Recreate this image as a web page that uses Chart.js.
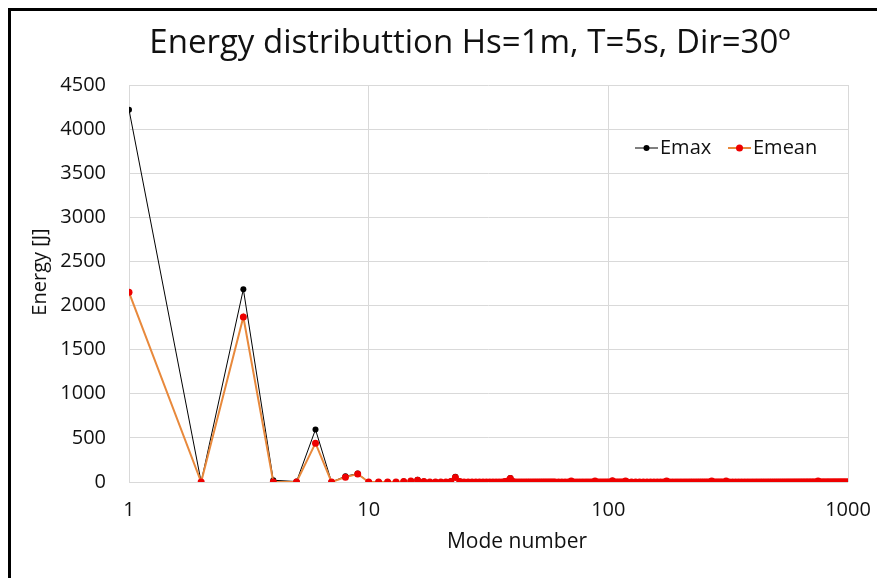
<!DOCTYPE html>
<html>
<head>
<meta charset="utf-8">
<script src="https://cdn.jsdelivr.net/npm/chart.js@4/dist/chart.umd.min.js"></script>
<style>
  html, body { margin: 0; padding: 0; background: #fff; }
  #wrap { width: 877px; height: 578px; position: relative; }
</style>
</head>
<body>
<div id="wrap"><canvas id="c" width="877" height="578"></canvas></div>
<script>
// ---- data ----
const chartTitle = 'Energy distributtion Hs=1m, T=5s, Dir=30º';
const xTitle = 'Mode number';
const yTitle = 'Energy [J]';
const seriesNames = ['Emax', 'Emean'];
const xTicks = [1, 10, 100, 1000];

const modes = [
  1,2,3,4,5,6,7,8,9,10,11,12,13,14,15,16,17,18,19,20,
  21,22,23,24,25,26,27,28,29,30,31,32,33,34,35,36,37,38,39,40,
  41,42,43,44,45,46,47,48,49,50,51,52,53,54,55,56,57,58,59,60,
  62,64,66,68,70,72,74,76,78,80,82,84,86,88,90,92,94,96,98,100,
  102,104,106,108,110,112,114,116,118,120,
  125,130,135,140,145,150,155,160,165,170,175,180,185,190,195,200,
  205,210,215,220,225,230,235,240,245,250,255,260,265,270,275,280,285,290,295,300,
  310,320,330,340,350,360,370,380,390,400,410,420,430,440,450,460,470,480,490,500,
  510,520,530,540,550,560,570,580,590,600,610,620,630,640,650,660,670,680,690,700,
  710,720,730,740,750,760,770,780,790,800,810,820,830,840,850,860,870,880,890,900,
  910,920,930,940,950,960,970,980,990,1000
];

const emax = [
  4220,0,2185,20,5,595,0,65,95,0,0,0,0,5,10,25,5,0,0,0,
  0,5,60,5,0,0,0,0,0,0,0,0,0,0,0,0,5,10,45,5,
  0,0,0,0,0,0,0,0,0,0,0,0,0,0,0,0,0,0,0,0,
  0,0,0,0,10,0,0,0,0,0,0,0,0,10,0,0,0,0,0,0,
  0,15,0,0,0,0,0,0,10,0,
  0,0,0,0,0,0,0,0,0,0,10,0,0,0,0,0,
  0,0,0,0,0,0,0,0,0,0,0,0,0,10,0,0,0,0,0,0,
  10,0,0,0,0,0,0,0,0,0,0,0,0,0,0,0,0,0,0,0,
  0,0,0,0,0,0,0,0,0,0,0,0,0,0,0,0,0,0,0,0,
  0,0,0,0,10,0,0,0,0,0,0,0,0,0,0,0,0,0,0,0,
  0,0,0,0,0,0,0,0,0,0
];

const emean = [
  2150,0,1870,0,0,440,0,55,90,0,0,0,0,5,10,20,5,0,0,0,
  0,5,50,5,0,0,0,0,0,0,0,0,0,0,0,0,5,10,40,5,
  0,0,0,0,0,0,0,0,0,0,0,0,0,0,0,0,0,0,0,0,
  0,0,0,0,10,0,0,0,0,0,0,0,0,10,0,0,0,0,0,0,
  0,15,0,0,0,0,0,0,10,0,
  0,0,0,0,0,0,0,0,0,0,10,0,0,0,0,0,
  0,0,0,0,0,0,0,0,0,0,0,0,0,10,0,0,0,0,0,0,
  10,0,0,0,0,0,0,0,0,0,0,0,0,0,0,0,0,0,0,0,
  0,0,0,0,0,0,0,0,0,0,0,0,0,0,0,0,0,0,0,0,
  0,0,0,0,10,0,0,0,0,0,0,0,0,0,0,0,0,0,0,0,
  0,0,0,0,0,0,0,0,0,0
];

// ---- styles ----
const FONT = "'Open Sans', 'Noto Sans', sans-serif";
const TEXT = '#111';
const GRID = '#d9d9d9';

const pts = (ys) => modes.map((m, i) => ({ x: m, y: ys[i] }));

const frame = {
  id: 'frame',
  beforeDraw(chart) {
    const ctx = chart.ctx;
    ctx.save();
    ctx.fillStyle = '#fff';
    ctx.fillRect(0, 0, chart.width, chart.height);
    ctx.fillStyle = '#000';
    ctx.fillRect(8, 8, chart.width - 8, 3);
    ctx.fillRect(8, 8, 3, chart.height - 8);
    ctx.restore();
  },
  afterDraw(chart) {
    const ctx = chart.ctx;
    ctx.save();
    ctx.fillStyle = TEXT;
    ctx.textAlign = 'center';
    // chart title (centred on the full, uncropped chart frame)
    ctx.font = "33px " + FONT;
    ctx.textBaseline = 'alphabetic';
    ctx.fillText(chartTitle, 470, 53);
    // axis titles
    ctx.font = "21px " + FONT;
    ctx.textBaseline = 'middle';
    ctx.fillText(xTitle, 517, 542);
    ctx.font = "20px " + FONT;
    ctx.translate(40, 272);
    ctx.rotate(-Math.PI / 2);
    ctx.fillText(yTitle, 0, 0);
    ctx.restore();
  }
};

const legendBox = {
  id: 'legendBox',
  afterDraw(chart) {
    const ctx = chart.ctx;
    ctx.save();
    ctx.font = "20px " + FONT;
    ctx.textBaseline = 'middle';
    ctx.textAlign = 'left';
    const y = 148;
    const items = [
      { ds: chart.data.datasets[0], x: 635 },
      { ds: chart.data.datasets[1], x: 728 }
    ];
    items.forEach(it => {
      ctx.strokeStyle = it.ds.borderColor;
      ctx.lineWidth = it.ds.borderWidth;
      ctx.beginPath();
      ctx.moveTo(it.x, y);
      ctx.lineTo(it.x + 23, y);
      ctx.stroke();
      ctx.fillStyle = it.ds.pointBackgroundColor;
      ctx.beginPath();
      ctx.arc(it.x + 11.5, y, it.ds.pointRadius, 0, Math.PI * 2);
      ctx.fill();
      ctx.fillStyle = TEXT;
      ctx.fillText(it.ds.label, it.x + 25, y);
    });
    ctx.restore();
  }
};

new Chart(document.getElementById('c'), {
  type: 'line',
  data: {
    datasets: [
      {
        label: seriesNames[0],
        data: pts(emax),
        borderColor: '#000',
        borderWidth: 1,
        pointRadius: 3,
        pointBackgroundColor: '#000',
        pointBorderWidth: 0,
        order: 1
      },
      {
        label: seriesNames[1],
        data: pts(emean),
        borderColor: '#E8893C',
        borderWidth: 2,
        pointRadius: 3.5,
        pointBackgroundColor: '#EE0000',
        pointBorderWidth: 0,
        order: 0
      }
    ]
  },
  options: {
    responsive: false,
    animation: false,
    events: [],
    layout: { padding: { left: 10, top: 85, right: 29, bottom: 0 } },
    plugins: {
      legend: { display: false },
      tooltip: { enabled: false },
      title: { display: false }
    },
    scales: {
      x: {
        type: 'logarithmic',
        min: 1,
        max: 1000,
        afterBuildTicks: (s) => { s.ticks = xTicks.map(v => ({ value: v })); },
        afterFit: (s) => { s.height = 96; s.paddingLeft = 0; s.paddingRight = 0; },
        grid: { color: GRID, lineWidth: 1, drawTicks: false },
        border: { display: false },
        ticks: {
          color: TEXT,
          font: { family: FONT, size: 20 },
          padding: 16,
          maxRotation: 0,
          autoSkip: false,
          callback: (v) => String(v)
        },
        title: { display: false, text: xTitle }
      },
      y: {
        min: 0,
        max: 4500,
        afterFit: (s) => { s.width = 119; s.paddingTop = 0; s.paddingBottom = 0; },
        grid: { color: GRID, lineWidth: 1, drawTicks: false },
        border: { display: false },
        ticks: {
          stepSize: 500,
          color: TEXT,
          font: { family: FONT, size: 20 },
          padding: 23,
          callback: (v) => String(v)
        },
        title: { display: false, text: yTitle }
      }
    }
  },
  plugins: [frame, legendBox]
});
</script>
</body>
</html>
